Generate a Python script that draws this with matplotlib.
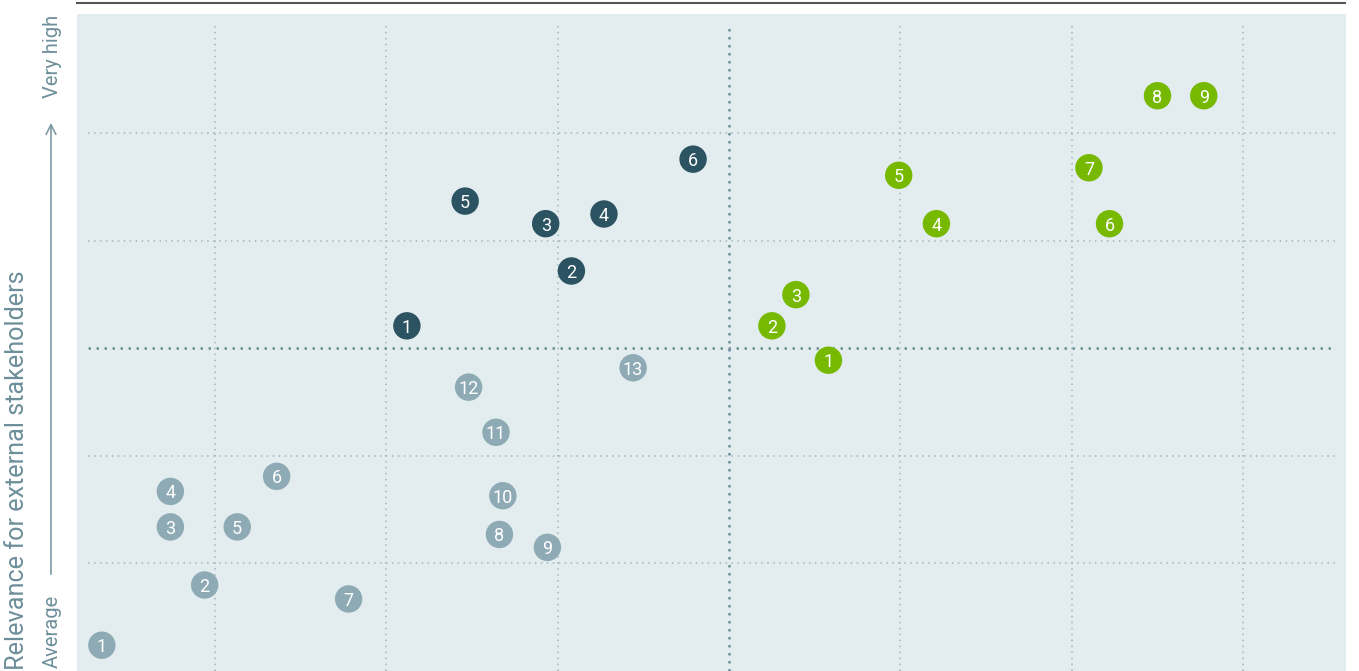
import matplotlib
matplotlib.use("Agg")
import matplotlib.pyplot as plt
from matplotlib.lines import Line2D

# ---- data (grid units: vertical gridlines at x=1..7, horizontal at y=1..5) ----
gray_labels = ["1", "2", "3", "4", "5", "6", "7", "8", "9", "10", "11", "12", "13"]
gray_x = [0.34, 0.94, 0.74, 0.74, 1.13, 1.36, 1.78, 2.66, 2.94, 2.68, 2.64, 2.48, 3.44]
gray_y = [0.24, 0.80, 1.34, 1.67, 1.34, 1.81, 0.67, 1.27, 1.15, 1.63, 2.22, 2.64, 2.82]

dark_labels = ["1", "2", "3", "4", "5", "6"]
dark_x = [2.12, 3.08, 2.93, 3.27, 2.46, 3.79]
dark_y = [3.21, 3.72, 4.16, 4.25, 4.37, 4.76]

green_labels = ["1", "2", "3", "4", "5", "6", "7", "8", "9"]
green_x = [4.58, 4.25, 4.39, 5.21, 4.99, 6.22, 6.10, 6.50, 6.77]
green_y = [2.89, 3.21, 3.50, 4.16, 4.61, 4.16, 4.68, 5.35, 5.35]

y_title = "Relevance for external stakeholders"
y_low = "Average"
y_high = "Very high"

plt.rcParams['font.family'] = ['Roboto', 'DejaVu Sans']

W, H = 1359, 671
fig = plt.figure(figsize=(W / 100, H / 100), dpi=100)
ax = fig.add_axes([77 / W, 0, (1346 - 77) / W, 657 / H])
ax.set_facecolor("#e3ecef")
ax.set_xlim(0.195, 7.60)
ax.set_ylim(0, 6.11)
for s in ax.spines.values():
    s.set_visible(False)
ax.set_xticks([])
ax.set_yticks([])

minor_c = "#9fb6be"
major_c = "#6f8f9a"
x0, x1, ytop = 0.259, 7.537, 6.009
for gx in [1, 2, 3, 5, 6, 7]:
    ax.plot([gx, gx], [0, ytop], color=minor_c, lw=1.1, ls=(0, (1, 2.9)), zorder=1)
for gy in [1, 2, 4, 5]:
    ax.plot([x0, x1], [gy, gy], color=minor_c, lw=1.1, ls=(0, (1, 2.9)), zorder=1)
ax.plot([4, 4], [0, ytop], color=major_c, lw=1.8, ls=(0, (1, 2.2)), zorder=1.5)
ax.plot([x0, x1], [3, 3], color=major_c, lw=1.8, ls=(0, (1, 2.2)), zorder=1.5)

def draw(xs, ys, labels, color):
    ax.scatter(xs, ys, s=390, color=color, edgecolors="none", zorder=3)
    for x, y, t in zip(xs, ys, labels):
        ax.text(x, y, t, color="white", fontsize=13, ha="center", va="center_baseline", zorder=4)

draw(gray_x, gray_y, gray_labels, "#8eaab4")
draw(dark_x, dark_y, dark_labels, "#2b5361")
draw(green_x, green_y, green_labels, "#76b900")

# top rule
fig.add_artist(Line2D([77 / W, 1345 / W], [1 - 3 / H, 1 - 3 / H], color="#555555", lw=1.5))

# y-axis annotations
txt_c = "#6d8f9a"
fig.text(17 / W, 1 - 470 / H, y_title, rotation=90, ha="center", va="center", fontsize=18.2, color=txt_c)
fig.text(52 / W, 1 - 668 / H, y_low, rotation=90, ha="center", va="bottom", fontsize=14.5, color=txt_c)
fig.text(52 / W, 1 - 15 / H, y_high, rotation=90, ha="center", va="top", fontsize=14.5, color=txt_c)
ax_arrow = fig.add_axes([0, 0, 1, 1], facecolor="none")
ax_arrow.set_axis_off()
ax_arrow.set_xlim(0, W)
ax_arrow.set_ylim(H, 0)
ax_arrow.annotate("", xy=(51, 120), xytext=(51, 577),
                  arrowprops=dict(arrowstyle="->,head_length=0.7,head_width=0.35", color="#7e9ba5", lw=1.2))

fig.savefig("out.png", dpi=100)
